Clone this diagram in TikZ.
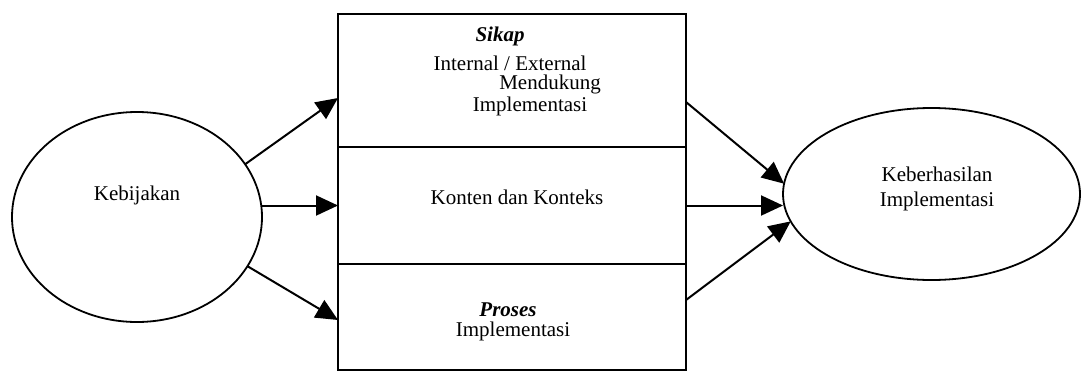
\documentclass[tikz,border=0pt]{standalone}
\usepackage{fontspec}
\setmainfont{Liberation Serif}
\usetikzlibrary{positioning,arrows.meta,shapes.geometric}
\begin{document}
\begin{tikzpicture}[x=1pt,y=-1pt,
  every node/.style={font=\fontsize{21}{21}\selectfont,inner sep=0pt},
  cell/.style={draw,rectangle,line width=1.8pt,minimum width=348pt,outer sep=0pt},
  oval/.style={draw,ellipse,line width=1.8pt,outer sep=0pt},
  arrow/.style={-{Triangle[length=22pt,width=20pt]},line width=2pt}]
  \useasboundingbox (0,0) rectangle (1083,372);
  \node (kebijakan) [oval, minimum width=250pt, minimum height=210pt] at (137,217) {};
  \node (kebijakantext) at (137,195) {Kebijakan};
  \node (sikap) [cell, minimum height=133pt] at (512,80.5) {};
  \node (konten) [cell, minimum height=117pt, below=0pt of sikap] {};
  \node (proses) [cell, minimum height=106pt, below=0pt of konten] {};
  \node (sikaptext) at (500,36) {\textbf{\textit{Sikap}}};
  \node (internal) at (510,63) {Internal / External};
  \node (mendukung) at (550,84) {Mendukung};
  \node (implsikap) at (530,106) {Implementasi};
  \node (kontentext) at (517,197) {Konten dan Konteks};
  \node (prosestext) at (508,310) {\textbf{\textit{Proses}}};
  \node (implproses) at (513,331) {Implementasi};
  \node (keberhasilan) [oval, minimum width=297pt, minimum height=172pt] at (931.5,194) {};
  \node (keberhasilantext) [align=center, font=\fontsize{21}{25}\selectfont] at (937,189) {Keberhasilan\\Implementasi};
  \path[arrow] (kebijakan.26) edge ([yshift=-17.5pt]sikap.west)
            (kebijakan.east |- konten.west) edge (konten.west)
            (kebijakan.-24) edge ([yshift=-3pt]proses.west)
            ([yshift=-21.5pt]sikap.east) edge (keberhasilan.176)
            (konten.east) edge (konten.east -| keberhasilan.west)
            ([yshift=17pt]proses.east) edge (keberhasilan.191)
            ;
\end{tikzpicture}
\end{document}
